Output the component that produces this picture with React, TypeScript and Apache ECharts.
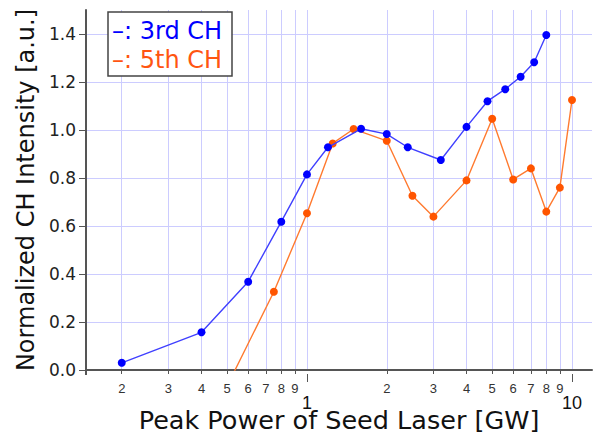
import React, { useEffect, useRef } from "react";
import * as echarts from "echarts";

const blueX = [0.2, 0.4, 0.6, 0.8, 1.0, 1.2, 1.6, 2.0, 2.4, 3.2, 4.0, 4.8, 5.6, 6.4, 7.2, 8.0];
const blueY = [0.03, 0.157, 0.368, 0.618, 0.815, 0.928, 1.005, 0.983, 0.928, 0.875, 1.013, 1.12, 1.17, 1.222, 1.282, 1.396];
const orangeX = [0.5, 0.75, 1.0, 1.25, 1.5, 2.0, 2.5, 3.0, 4.0, 5.0, 6.0, 7.0, 8.0, 9.0, 10.0];
const orangeY = [-0.066, 0.326, 0.653, 0.944, 1.004, 0.955, 0.726, 0.639, 0.79, 1.047, 0.794, 0.84, 0.66, 0.76, 1.125];

const minorTicks = [0.2, 0.3, 0.4, 0.5, 0.6, 0.7, 0.8, 0.9, 2, 3, 4, 5, 6, 7, 8, 9];
const majorTicks = [1, 10];
const yTicks = [0, 0.2, 0.4, 0.6, 0.8, 1.0, 1.2, 1.4];

const X_MIN = 0.1466;
const X_MAX = 11.9;

const FONT = "DejaVu Sans";
const NUM_FONT = "Liberation Sans";
const GRID_COLOR = "#ccccff";
const AXIS_COLOR = "#555555";

export default function App() {
  const ref = useRef<HTMLDivElement>(null);

  useEffect(() => {
    document.body.style.margin = "0";
    if (!ref.current) return;
    const chart = echarts.init(ref.current, null, { renderer: "svg" });

    const option: any = {
      animation: false,
      backgroundColor: "#ffffff",
      textStyle: { fontFamily: FONT },
      grid: { left: 86, right: 1, top: 10, bottom: 64, containLabel: false, outerBoundsMode: "none" },
      xAxis: [
        {
          type: "log",
          min: X_MIN,
          max: X_MAX,
          position: "bottom",
          offset: 4,
          name: "Peak Power of Seed Laser [GW]",
          nameLocation: "middle",
          nameGap: 37,
          nameTextStyle: { fontSize: 25.5, lineHeight: 18, color: "#111", fontFamily: FONT },
          axisLine: { show: true, lineStyle: { color: AXIS_COLOR, width: 2 } },
          axisTick: { show: true, customValues: minorTicks, length: 4, lineStyle: { color: AXIS_COLOR, width: 1 } },
          axisLabel: {
            show: true,
            customValues: minorTicks,
            margin: 7.5,
            fontSize: 13,
            lineHeight: 13,
            color: "#333",
            fontFamily: NUM_FONT,
            formatter: (v: number) => (v < 1 ? String(Math.round(v * 10)) : String(Math.round(v))),
          },
          splitLine: { show: true, lineStyle: { color: GRID_COLOR, width: 1 } },
        },
        {
          type: "log",
          min: X_MIN,
          max: X_MAX,
          position: "bottom",
          offset: 4,
          axisLine: { show: false },
          axisTick: { show: true, customValues: majorTicks, length: 8, lineStyle: { color: AXIS_COLOR, width: 1 } },
          axisLabel: {
            show: true,
            customValues: majorTicks,
            margin: 23.5,
            fontSize: 18,
            lineHeight: 10,
            color: "#111",
            fontFamily: NUM_FONT,
            formatter: (v: number) => String(Math.round(v)),
          },
          splitLine: { show: true, lineStyle: { color: GRID_COLOR, width: 1 } },
        },
      ],
      yAxis: {
        type: "value",
        min: 0,
        max: 1.5,
        name: "Normalized CH Intensity [a.u.]",
        nameLocation: "middle",
        nameGap: 46,
        nameTextStyle: { fontSize: 24, lineHeight: 24, color: "#111", fontFamily: FONT },
        axisLine: { show: true, lineStyle: { color: AXIS_COLOR, width: 2 } },
        axisTick: { show: true, customValues: yTicks, length: 7, lineStyle: { color: AXIS_COLOR, width: 1 } },
        axisLabel: {
          show: true,
          customValues: yTicks,
          margin: 10,
          fontSize: 17,
          color: "#222",
          fontFamily: FONT,
          formatter: (v: number) => v.toFixed(1),
        },
        splitLine: { show: true, lineStyle: { color: GRID_COLOR, width: 1 } },
      },
      series: [
        {
          name: "3rd CH",
          type: "line",
          xAxisIndex: 0,
          data: blueX.map((x, i) => [x, blueY[i]]),
          symbol: "circle",
          symbolSize: 8,
          clip: true,
          lineStyle: { color: "#4040ff", width: 1.4 },
          itemStyle: { color: "#0000ff" },
          z: 3,
        },
        {
          name: "5th CH",
          type: "line",
          xAxisIndex: 0,
          data: orangeX.map((x, i) => [x, orangeY[i]]),
          symbol: "circle",
          symbolSize: 8,
          clip: true,
          lineStyle: { color: "#ff7a30", width: 1.4 },
          itemStyle: { color: "#ff5500" },
          z: 2,
        },
      ],
      graphic: [
        {
          type: "line",
          shape: { x1: 86, y1: 369, x2: 86, y2: 375 },
          style: { stroke: AXIS_COLOR, lineWidth: 2 },
          z: 50,
        },
        {
          type: "group",
          z: 100,
          children: [
            {
              type: "rect",
              shape: { x: 108, y: 12, width: 124, height: 64 },
              style: { fill: "#ffffff", stroke: "#444444", lineWidth: 1.5 },
              z: 100,
            },
            {
              type: "text",
              x: 112,
              y: 31,
              style: { text: "\u2013: 3rd CH", fill: "#0000ff", font: `24px "${FONT}"`, verticalAlign: "middle" },
              z: 101,
            },
            {
              type: "text",
              x: 112,
              y: 60,
              style: { text: "\u2013: 5th CH", fill: "#ff5511", font: `24px "${FONT}"`, verticalAlign: "middle" },
              z: 101,
            },
          ],
        },
      ],
    };

    chart.setOption(option);
    return () => chart.dispose();
  }, []);

  return <div ref={ref} style={{ width: 593, height: 434 }} />;
}
